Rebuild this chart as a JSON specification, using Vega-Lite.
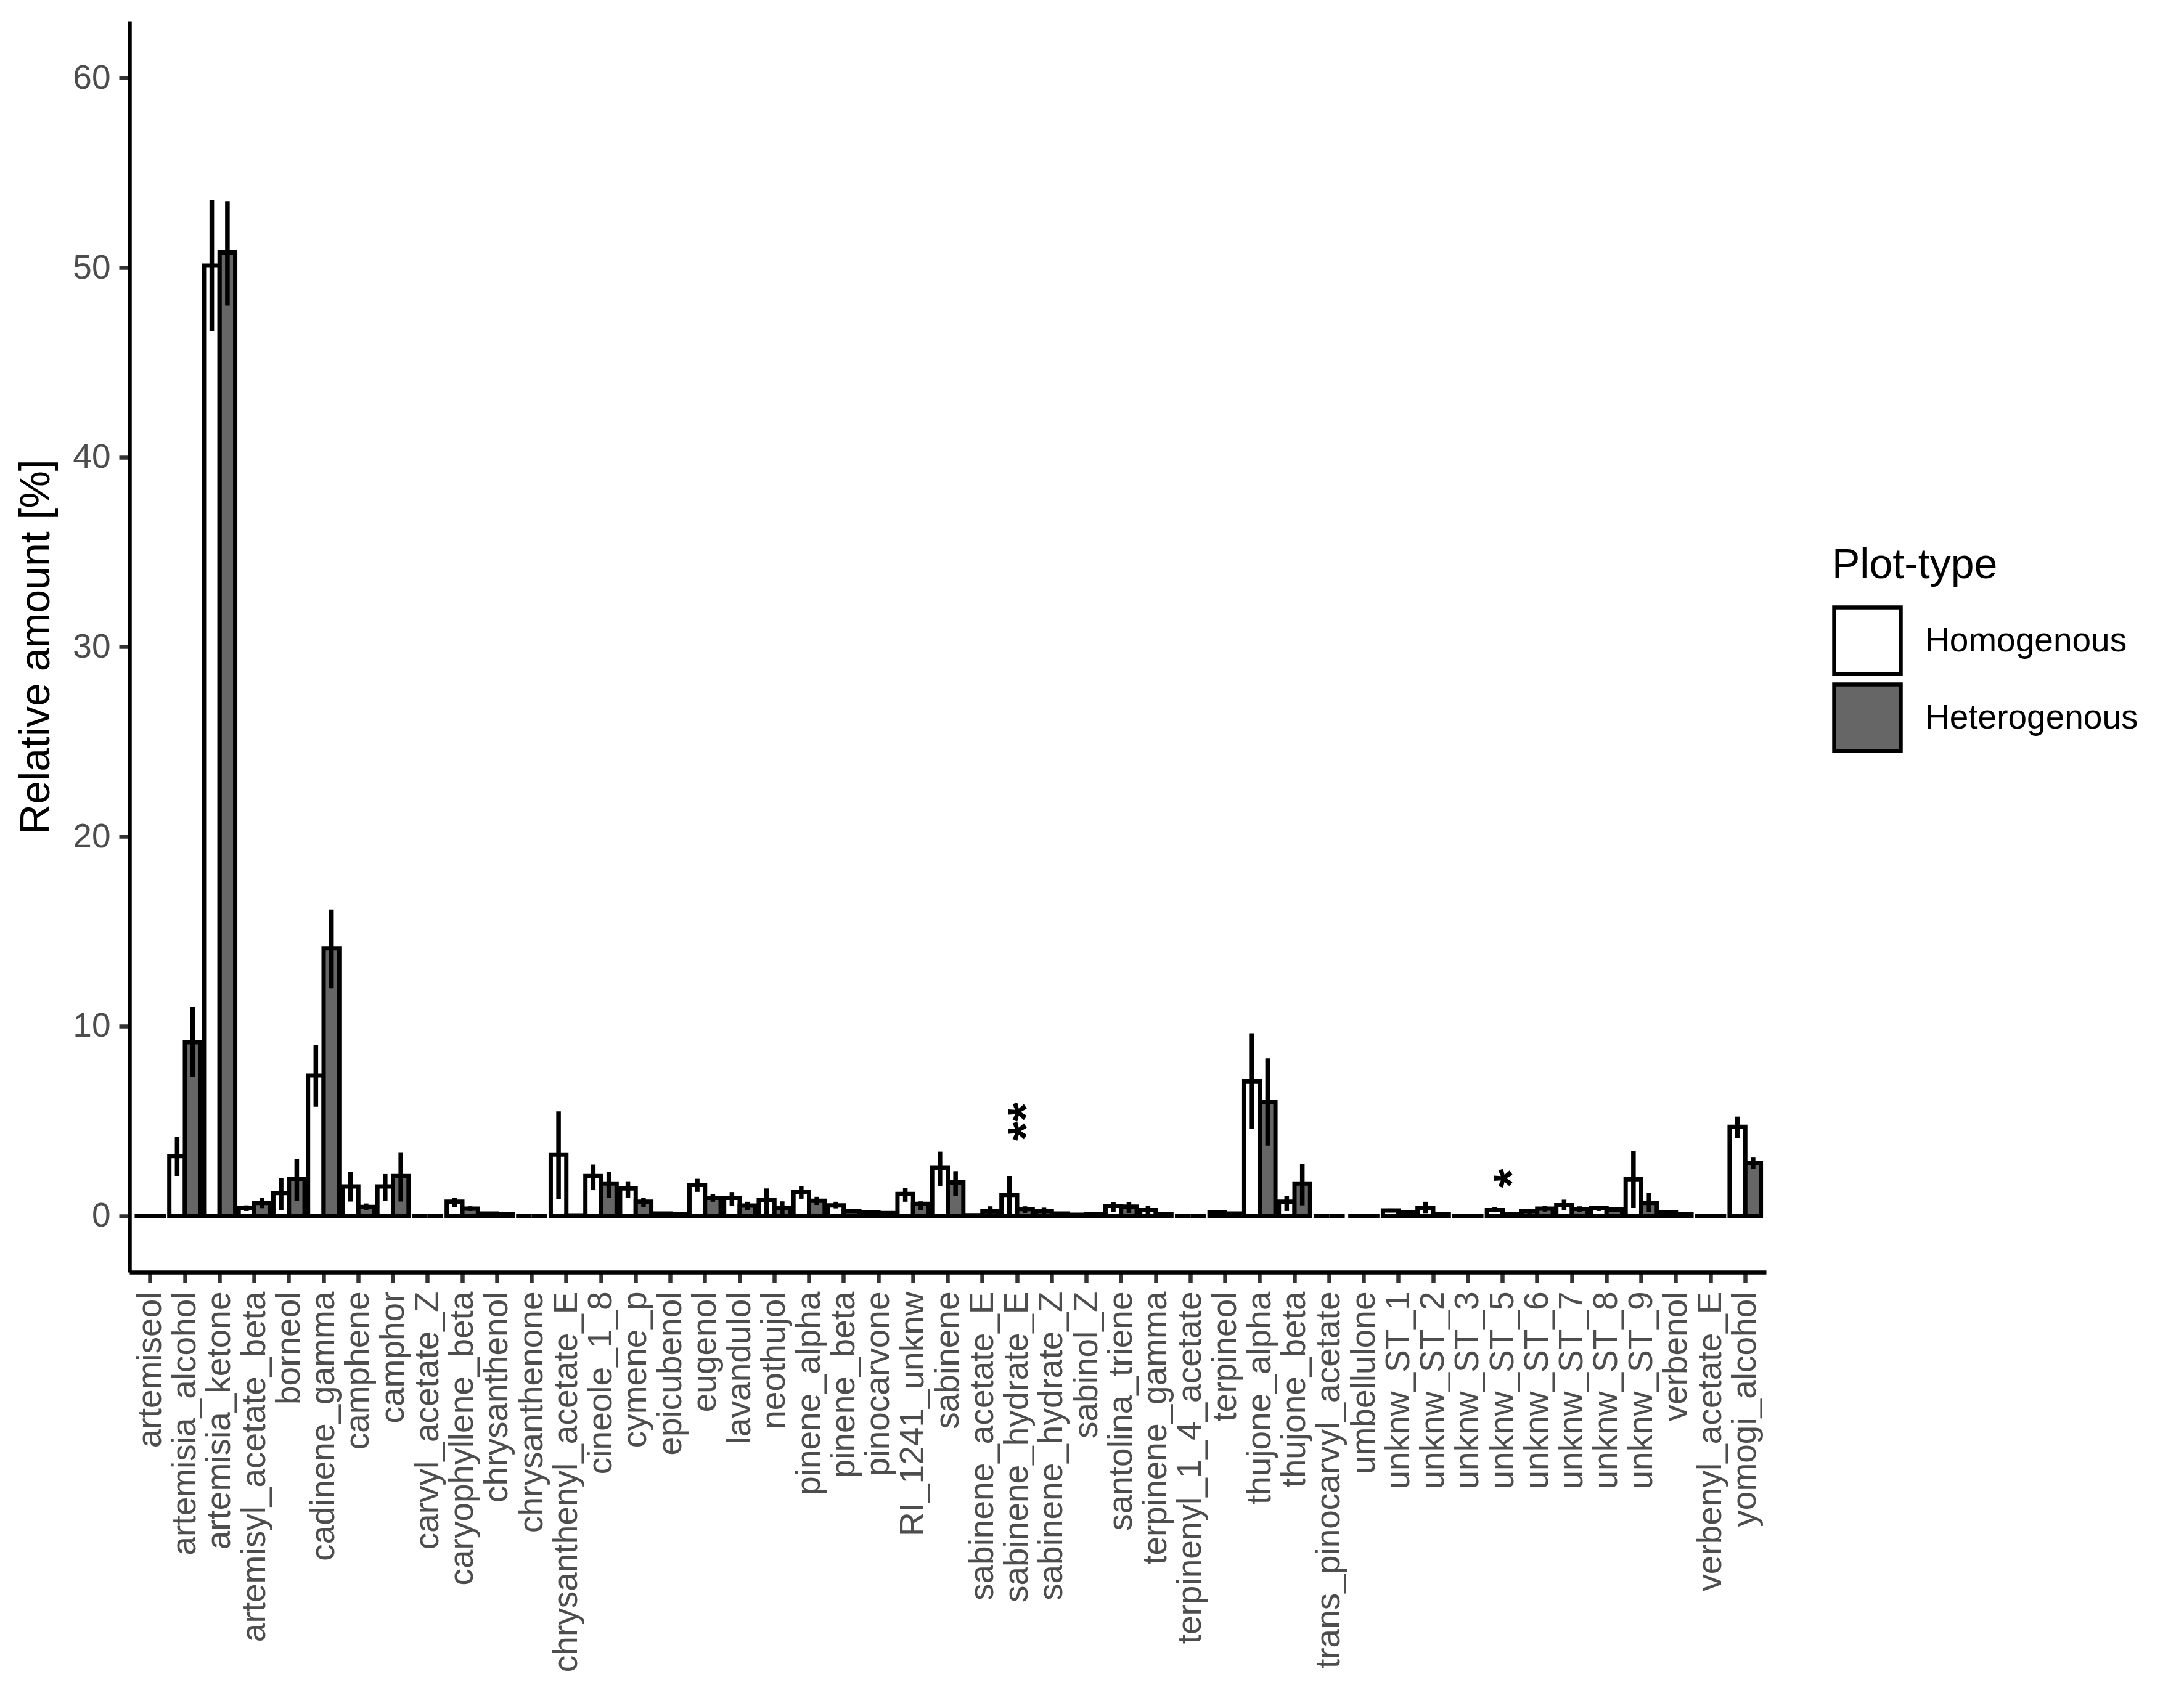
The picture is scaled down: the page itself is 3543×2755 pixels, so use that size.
{
  "$schema": "https://vega.github.io/schema/vega-lite/v6.json",
  "width": 2655,
  "height": 2030,
  "autosize": {"type": "none"},
  "padding": {"left": 210, "top": 34, "right": 678, "bottom": 691},
  "background": "white",
  "config": {
    "view": {"stroke": null},
    "font": "Liberation Sans",
    "axis": {
      "domainColor": "black", "domainWidth": 6.5,
      "tickColor": "#333333", "tickWidth": 6.5, "tickSize": 17,
      "labelColor": "#4D4D4D", "labelFontSize": 55, "labelFont": "Liberation Sans",
      "labelPadding": 14, "grid": false,
      "titleFontSize": 68, "titleFontWeight": "normal", "titleColor": "black", "titleFont": "Liberation Sans"
    },
    "legend": {
      "orient": "none", "legendX": 2762, "legendY": 850,
      "titleFontSize": 68, "titleFontWeight": "normal", "titleColor": "black", "titlePadding": 30, "titleFont": "Liberation Sans", "titleLimit": 2000,
      "labelFontSize": 55, "labelColor": "black", "labelOffset": 36, "labelFont": "Liberation Sans", "labelLimit": 2000,
      "symbolType": "square", "symbolSize": 11664, "symbolStrokeColor": "black", "symbolStrokeWidth": 6.5, "rowPadding": -14
    }
  },
  "datasets": {
    "main": [
      {"c": "artemiseol", "t": "Homogenous", "m": 0, "lo": 0, "hi": 0},
      {"c": "artemiseol", "t": "Heterogenous", "m": 0, "lo": 0, "hi": 0},
      {"c": "artemisia_alcohol", "t": "Homogenous", "m": 3.15, "lo": 2.1, "hi": 4.15},
      {"c": "artemisia_alcohol", "t": "Heterogenous", "m": 9.15, "lo": 7.3, "hi": 11.0},
      {"c": "artemisia_ketone", "t": "Homogenous", "m": 50.1, "lo": 46.65, "hi": 53.55},
      {"c": "artemisia_ketone", "t": "Heterogenous", "m": 50.8, "lo": 48.0, "hi": 53.5},
      {"c": "artemisyl_acetate_beta", "t": "Homogenous", "m": 0.4, "lo": 0.25, "hi": 0.55},
      {"c": "artemisyl_acetate_beta", "t": "Heterogenous", "m": 0.68, "lo": 0.4, "hi": 0.95},
      {"c": "borneol", "t": "Homogenous", "m": 1.2, "lo": 0.3, "hi": 2.0},
      {"c": "borneol", "t": "Heterogenous", "m": 1.95, "lo": 0.8, "hi": 3.0},
      {"c": "cadinene_gamma", "t": "Homogenous", "m": 7.4, "lo": 5.75, "hi": 9.0},
      {"c": "cadinene_gamma", "t": "Heterogenous", "m": 14.1, "lo": 12.0, "hi": 16.15},
      {"c": "camphene", "t": "Homogenous", "m": 1.55, "lo": 0.75, "hi": 2.3},
      {"c": "camphene", "t": "Heterogenous", "m": 0.47, "lo": 0.3, "hi": 0.65},
      {"c": "camphor", "t": "Homogenous", "m": 1.55, "lo": 0.8, "hi": 2.2},
      {"c": "camphor", "t": "Heterogenous", "m": 2.09, "lo": 0.75, "hi": 3.35},
      {"c": "carvyl_acetate_Z", "t": "Homogenous", "m": 0, "lo": 0, "hi": 0},
      {"c": "carvyl_acetate_Z", "t": "Heterogenous", "m": 0, "lo": 0, "hi": 0},
      {"c": "caryophyllene_beta", "t": "Homogenous", "m": 0.74, "lo": 0.45, "hi": 0.95},
      {"c": "caryophyllene_beta", "t": "Heterogenous", "m": 0.38, "lo": 0.25, "hi": 0.5},
      {"c": "chrysanthenol", "t": "Homogenous", "m": 0.12, "lo": 0.07, "hi": 0.18},
      {"c": "chrysanthenol", "t": "Heterogenous", "m": 0.07, "lo": 0.04, "hi": 0.1},
      {"c": "chrysanthenone", "t": "Homogenous", "m": 0, "lo": 0, "hi": 0},
      {"c": "chrysanthenone", "t": "Heterogenous", "m": 0, "lo": 0, "hi": 0},
      {"c": "chrysanthenyl_acetate_E", "t": "Homogenous", "m": 3.23, "lo": 0.9, "hi": 5.5},
      {"c": "chrysanthenyl_acetate_E", "t": "Heterogenous", "m": 0.02, "lo": 0, "hi": 0.04},
      {"c": "cineole_1_8", "t": "Homogenous", "m": 2.09, "lo": 1.35, "hi": 2.7},
      {"c": "cineole_1_8", "t": "Heterogenous", "m": 1.7, "lo": 0.95, "hi": 2.3},
      {"c": "cymene_p", "t": "Homogenous", "m": 1.44, "lo": 0.95, "hi": 1.82},
      {"c": "cymene_p", "t": "Heterogenous", "m": 0.74, "lo": 0.47, "hi": 0.93},
      {"c": "epicubenol", "t": "Homogenous", "m": 0.12, "lo": 0.08, "hi": 0.16},
      {"c": "epicubenol", "t": "Heterogenous", "m": 0.1, "lo": 0.06, "hi": 0.14},
      {"c": "eugenol", "t": "Homogenous", "m": 1.63, "lo": 1.26, "hi": 1.95},
      {"c": "eugenol", "t": "Heterogenous", "m": 0.95, "lo": 0.74, "hi": 1.15},
      {"c": "lavandulol", "t": "Homogenous", "m": 0.95, "lo": 0.52, "hi": 1.25},
      {"c": "lavandulol", "t": "Heterogenous", "m": 0.54, "lo": 0.3, "hi": 0.74},
      {"c": "neothujol", "t": "Homogenous", "m": 0.85, "lo": 0.1, "hi": 1.44},
      {"c": "neothujol", "t": "Heterogenous", "m": 0.43, "lo": 0.1, "hi": 0.76},
      {"c": "pinene_alpha", "t": "Homogenous", "m": 1.26, "lo": 0.9, "hi": 1.55},
      {"c": "pinene_alpha", "t": "Heterogenous", "m": 0.79, "lo": 0.57, "hi": 1.0},
      {"c": "pinene_beta", "t": "Homogenous", "m": 0.55, "lo": 0.39, "hi": 0.74},
      {"c": "pinene_beta", "t": "Heterogenous", "m": 0.25, "lo": 0.18, "hi": 0.32},
      {"c": "pinocarvone", "t": "Homogenous", "m": 0.2, "lo": 0.14, "hi": 0.26},
      {"c": "pinocarvone", "t": "Heterogenous", "m": 0.14, "lo": 0.1, "hi": 0.18},
      {"c": "RI_1241_unknw", "t": "Homogenous", "m": 1.15, "lo": 0.74, "hi": 1.46},
      {"c": "RI_1241_unknw", "t": "Heterogenous", "m": 0.63, "lo": 0.3, "hi": 0.76},
      {"c": "sabinene", "t": "Homogenous", "m": 2.52, "lo": 1.57, "hi": 3.38},
      {"c": "sabinene", "t": "Heterogenous", "m": 1.76, "lo": 1.05, "hi": 2.35},
      {"c": "sabinene_acetate_E", "t": "Homogenous", "m": 0.03, "lo": 0, "hi": 0.06},
      {"c": "sabinene_acetate_E", "t": "Heterogenous", "m": 0.24, "lo": 0.02, "hi": 0.5},
      {"c": "sabinene_hydrate_E", "t": "Homogenous", "m": 1.1, "lo": 0.05, "hi": 2.1},
      {"c": "sabinene_hydrate_E", "t": "Heterogenous", "m": 0.35, "lo": 0.15, "hi": 0.5},
      {"c": "sabinene_hydrate_Z", "t": "Homogenous", "m": 0.24, "lo": 0.05, "hi": 0.43},
      {"c": "sabinene_hydrate_Z", "t": "Heterogenous", "m": 0.12, "lo": 0.05, "hi": 0.18},
      {"c": "sabinol_Z", "t": "Homogenous", "m": 0.05, "lo": 0.02, "hi": 0.08},
      {"c": "sabinol_Z", "t": "Heterogenous", "m": 0.07, "lo": 0.03, "hi": 0.1},
      {"c": "santolina_triene", "t": "Homogenous", "m": 0.52, "lo": 0.2, "hi": 0.73},
      {"c": "santolina_triene", "t": "Heterogenous", "m": 0.48, "lo": 0.15, "hi": 0.73},
      {"c": "terpinene_gamma", "t": "Homogenous", "m": 0.3, "lo": 0.08, "hi": 0.54},
      {"c": "terpinene_gamma", "t": "Heterogenous", "m": 0.08, "lo": 0.03, "hi": 0.12},
      {"c": "terpinenyl_1_4_acetate", "t": "Homogenous", "m": 0, "lo": 0, "hi": 0},
      {"c": "terpinenyl_1_4_acetate", "t": "Heterogenous", "m": 0, "lo": 0, "hi": 0},
      {"c": "terpineol", "t": "Homogenous", "m": 0.2, "lo": 0.12, "hi": 0.3},
      {"c": "terpineol", "t": "Heterogenous", "m": 0.12, "lo": 0.08, "hi": 0.16},
      {"c": "thujone_alpha", "t": "Homogenous", "m": 7.1, "lo": 4.58, "hi": 9.62},
      {"c": "thujone_alpha", "t": "Heterogenous", "m": 6.0, "lo": 3.7, "hi": 8.3},
      {"c": "thujone_beta", "t": "Homogenous", "m": 0.74, "lo": 0.25, "hi": 1.05},
      {"c": "thujone_beta", "t": "Heterogenous", "m": 1.7, "lo": 0.55, "hi": 2.75},
      {"c": "trans_pinocarvyl_acetate", "t": "Homogenous", "m": 0, "lo": 0, "hi": 0},
      {"c": "trans_pinocarvyl_acetate", "t": "Heterogenous", "m": 0, "lo": 0, "hi": 0},
      {"c": "umbellulone", "t": "Homogenous", "m": 0, "lo": 0, "hi": 0},
      {"c": "umbellulone", "t": "Heterogenous", "m": 0, "lo": 0, "hi": 0},
      {"c": "unknw_ST_1", "t": "Homogenous", "m": 0.28, "lo": 0.18, "hi": 0.38},
      {"c": "unknw_ST_1", "t": "Heterogenous", "m": 0.2, "lo": 0.12, "hi": 0.28},
      {"c": "unknw_ST_2", "t": "Homogenous", "m": 0.43, "lo": 0.14, "hi": 0.74},
      {"c": "unknw_ST_2", "t": "Heterogenous", "m": 0.09, "lo": 0.05, "hi": 0.13},
      {"c": "unknw_ST_3", "t": "Homogenous", "m": 0, "lo": 0, "hi": 0},
      {"c": "unknw_ST_3", "t": "Heterogenous", "m": 0, "lo": 0, "hi": 0},
      {"c": "unknw_ST_5", "t": "Homogenous", "m": 0.3, "lo": 0.18, "hi": 0.45},
      {"c": "unknw_ST_5", "t": "Heterogenous", "m": 0.1, "lo": 0.06, "hi": 0.14},
      {"c": "unknw_ST_6", "t": "Homogenous", "m": 0.24, "lo": 0.12, "hi": 0.35},
      {"c": "unknw_ST_6", "t": "Heterogenous", "m": 0.38, "lo": 0.22, "hi": 0.54},
      {"c": "unknw_ST_7", "t": "Homogenous", "m": 0.56, "lo": 0.3, "hi": 0.85},
      {"c": "unknw_ST_7", "t": "Heterogenous", "m": 0.36, "lo": 0.2, "hi": 0.5},
      {"c": "unknw_ST_8", "t": "Homogenous", "m": 0.39, "lo": 0.25, "hi": 0.5},
      {"c": "unknw_ST_8", "t": "Heterogenous", "m": 0.33, "lo": 0.2, "hi": 0.45},
      {"c": "unknw_ST_9", "t": "Homogenous", "m": 1.93, "lo": 0.41, "hi": 3.42},
      {"c": "unknw_ST_9", "t": "Heterogenous", "m": 0.68, "lo": 0.2, "hi": 1.22},
      {"c": "verbenol", "t": "Homogenous", "m": 0.17, "lo": 0.08, "hi": 0.27},
      {"c": "verbenol", "t": "Heterogenous", "m": 0.08, "lo": 0.04, "hi": 0.12},
      {"c": "verbenyl_acetate_E", "t": "Homogenous", "m": 0, "lo": 0, "hi": 0},
      {"c": "verbenyl_acetate_E", "t": "Heterogenous", "m": 0, "lo": 0, "hi": 0},
      {"c": "yomogi_alcohol", "t": "Homogenous", "m": 4.69, "lo": 4.1, "hi": 5.23},
      {"c": "yomogi_alcohol", "t": "Heterogenous", "m": 2.8, "lo": 2.47, "hi": 3.07}
    ],
    "stars": [
      {"c": "sabinene_hydrate_E", "label": "**", "y": 4.96},
      {"c": "unknw_ST_5", "label": "*", "y": 1.97}
    ]
  },
  "encoding": {
    "x": {
      "field": "c", "type": "nominal",
      "scale": {
        "domain": ["artemiseol","artemisia_alcohol","artemisia_ketone","artemisyl_acetate_beta","borneol","cadinene_gamma","camphene","camphor","carvyl_acetate_Z","caryophyllene_beta","chrysanthenol","chrysanthenone","chrysanthenyl_acetate_E","cineole_1_8","cymene_p","epicubenol","eugenol","lavandulol","neothujol","pinene_alpha","pinene_beta","pinocarvone","RI_1241_unknw","sabinene","sabinene_acetate_E","sabinene_hydrate_E","sabinene_hydrate_Z","sabinol_Z","santolina_triene","terpinene_gamma","terpinenyl_1_4_acetate","terpineol","thujone_alpha","thujone_beta","trans_pinocarvyl_acetate","umbellulone","unknw_ST_1","unknw_ST_2","unknw_ST_3","unknw_ST_5","unknw_ST_6","unknw_ST_7","unknw_ST_8","unknw_ST_9","verbenol","verbenyl_acetate_E","yomogi_alcohol"],
        "paddingInner": 0, "paddingOuter": 0.1
      },
      "axis": {"title": null, "labelAngle": 270, "labelOverlap": false, "labelLimit": 2000, "labelPadding": 14}
    }
  },
  "layer": [
    {
      "data": {"name": "main"},
      "mark": {"type": "bar", "stroke": "black", "strokeWidth": 7, "strokeJoin": "miter"},
      "encoding": {
        "xOffset": {"field": "t", "type": "nominal", "sort": ["Homogenous", "Heterogenous"], "scale": {"paddingInner": 0, "paddingOuter": 0.111}},
        "y": {
          "field": "m", "type": "quantitative",
          "scale": {"domain": [-2.97, 63.0], "nice": false, "zero": false},
          "axis": {"title": "Relative amount [%]", "values": [0, 10, 20, 30, 40, 50, 60], "titlePadding": 24}
        },
        "y2": {"datum": 0},
        "fill": {
          "field": "t", "type": "nominal",
          "scale": {"domain": ["Homogenous", "Heterogenous"], "range": ["#FFFFFF", "#666666"]},
          "legend": {"title": "Plot-type"}
        }
      }
    },
    {
      "data": {"name": "main"},
      "mark": {"type": "rule", "stroke": "black", "strokeWidth": 7.5},
      "encoding": {
        "xOffset": {"field": "t", "type": "nominal", "sort": ["Homogenous", "Heterogenous"], "scale": {"paddingInner": 0, "paddingOuter": 0.111}},
        "y": {"field": "lo", "type": "quantitative"},
        "y2": {"field": "hi"}
      }
    },
    {
      "data": {"name": "stars"},
      "mark": {"type": "text", "angle": 270, "align": "center", "baseline": "middle", "dy": 17, "fontSize": 80, "fontWeight": "bold", "color": "black", "font": "Liberation Sans"},
      "encoding": {
        "y": {"field": "y", "type": "quantitative"},
        "text": {"field": "label"}
      }
    }
  ]
}
